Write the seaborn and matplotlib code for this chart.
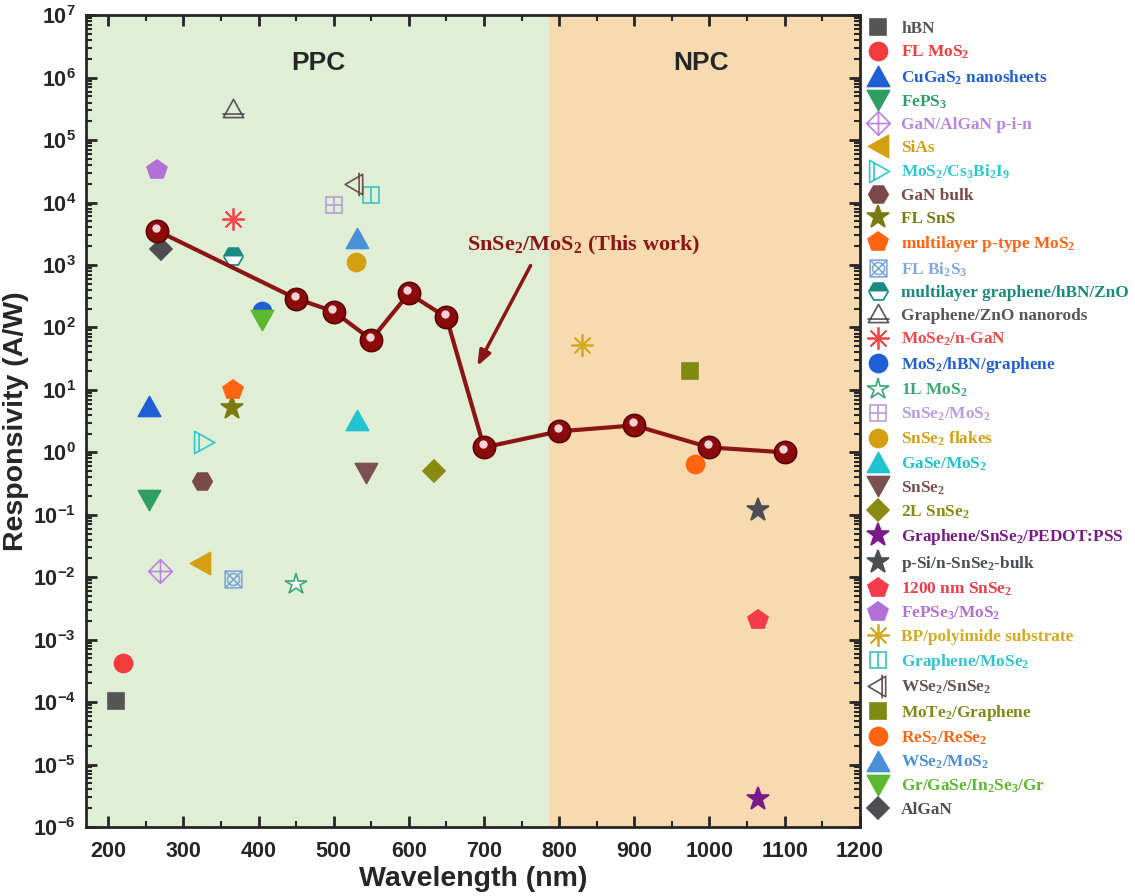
import numpy as np
import pandas as pd
import matplotlib
matplotlib.use("Agg")
import matplotlib.pyplot as plt
from matplotlib.path import Path
from matplotlib.transforms import offset_copy
import seaborn as sns

# ---------------------------------------------------------------------------
# DATA
# ---------------------------------------------------------------------------
# This work: SnSe2/MoS2
work_wl = [265, 450, 500, 550, 600, 650, 700, 800, 900, 1000, 1100]
work_resp = [3550, 290, 180, 64, 350, 145, 1.2, 2.17, 2.7, 1.2, 1.0]

# Literature points (legend order)
ref_labels = [
    "hBN", "FL MoS$_2$", "CuGaS$_2$ nanosheets", "FePS$_3$", "GaN/AlGaN p-i-n",
    "SiAs", "MoS$_2$/Cs$_3$Bi$_2$I$_9$", "GaN bulk", "FL SnS",
    "multilayer p-type MoS$_2$", "FL Bi$_2$S$_3$", "multilayer graphene/hBN/ZnO",
    "Graphene/ZnO nanorods", "MoSe$_2$/n-GaN", "MoS$_2$/hBN/graphene",
    "1L MoS$_2$", "SnSe$_2$/MoS$_2$", "SnSe$_2$ flakes", "GaSe/MoS$_2$",
    "SnSe$_2$", "2L SnSe$_2$", "Graphene/SnSe$_2$/PEDOT:PSS",
    "p-Si/n-SnSe$_2$-bulk", "1200 nm SnSe$_2$", "FePSe$_3$/MoS$_2$",
    "BP/polyimide substrate", "Graphene/MoSe$_2$", "WSe$_2$/SnSe$_2$",
    "MoTe$_2$/Graphene", "ReS$_2$/ReSe$_2$", "WSe$_2$/MoS$_2$",
    "Gr/GaSe/In$_2$Se$_3$/Gr", "AlGaN",
]
ref_wl = [210, 220, 254, 254, 269, 322, 326, 325, 365, 366, 366, 366, 366, 366,
          405, 450, 501, 530, 531, 543, 633, 1065, 1065, 1064, 265, 830, 550,
          529, 974, 981, 531, 405, 270]
ref_resp = [1.05e-4, 4.2e-4, 5.6, 0.17, 0.0126, 0.0166, 1.45, 0.35, 5.2, 9.8,
            0.0093, 1380, 3.1e5, 5500, 186, 0.0079, 9000, 1100, 3.3, 0.46,
            0.51, 2.8e-6, 0.12, 0.0021, 3.3e4, 53, 1.3e4, 2.0e4, 20, 0.66,
            2750, 134, 1780]
ref_colors = [
    "#555555", "#f23b3b", "#1f5fd6", "#2e9e62", "#b985e0", "#d4a012",
    "#2ec8d0", "#7a4848", "#7a7a12", "#ff6410", "#80a8d8", "#188a80",
    "#555555", "#f24848", "#1f5fd6", "#3aa870", "#b99be0", "#d4a012",
    "#1fc4d0", "#7a5050", "#8a8a12", "#7a1a8a", "#4d4d55", "#f23c4c",
    "#b070d8", "#d4aa20", "#30c4cc", "#6a5050", "#7f8a12", "#ff6410",
    "#4a90d9", "#5cb82e", "#4d4d52",
]
ref_markers = [
    "s", "o", "tri_up", "tri_down", "diamond_plus", "tri_left", "tri_bar", "H",
    "*", "p", "square_x", "h_half", "tri_line", "aster", "o", "star_open",
    "square_plus", "o", "tri_up", "tri_down", "D", "*", "*", "p", "p", "aster",
    "square_bar", "ltri_bar", "s", "o", "tri_up", "tri_down", "D",
]

# ---------------------------------------------------------------------------
# CUSTOM MARKERS
# ---------------------------------------------------------------------------
def multi_path(polys, closed):
    verts, codes = [], []
    for pts, cl in zip(polys, closed):
        verts += pts
        codes += [Path.MOVETO] + [Path.LINETO] * (len(pts) - 1)
        if cl:
            verts.append(pts[0])
            codes.append(Path.CLOSEPOLY)
    return Path(verts, codes)

sq = [(-1, -1), (1, -1), (1, 1), (-1, 1)]
circ = [(0.72 * np.cos(t), 0.72 * np.sin(t)) for t in np.linspace(0, 2 * np.pi, 40)[:-1]]
custom = {
    "diamond_plus": multi_path([[(0, 1), (1, 0), (0, -1), (-1, 0)], [(-1, 0), (1, 0)], [(0, -1), (0, 1)]],
                               [True, False, False]),
    "tri_bar": multi_path([[(-0.8, 1), (1, 0), (-0.8, -1)], [(-0.4, -0.78), (-0.4, 0.78)]], [True, False]),
    "square_x": multi_path([sq, [(-1, -1), (1, 1)], [(-1, 1), (1, -1)], circ], [True, False, False, True]),
    "tri_line": multi_path([[(0, 1), (-1, -0.8), (1, -0.8)], [(-1.1, -0.45), (1.1, -0.45)]], [True, False]),
    "square_plus": multi_path([sq, [(-1, 0), (1, 0)], [(0, -1), (0, 1)]], [True, False, False]),
    "square_bar": multi_path([sq, [(0, -1), (0, 1)]], [True, False]),
    "ltri_bar": multi_path([[(-1, 0), (0.7, 1), (0.7, -1)], [(0.35, -1.15), (0.35, 1.15)]], [True, False]),
}
filled_custom = {
    "tri_up": multi_path([[(0, 0.9), (-1, -0.9), (1, -0.9)]], [True]),
    "tri_down": multi_path([[(0, -0.9), (-1, 0.9), (1, 0.9)]], [True]),
    "tri_left": multi_path([[(-0.9, 0), (0.9, 1), (0.9, -1)]], [True]),
}
msize = {"s": 11, "o": 13, "tri_up": 16, "tri_down": 16, "tri_left": 16,
         "p": 15, "H": 14, "h_half": 14, "*": 17, "star_open": 16, "D": 11.5,
         "aster": 16, "diamond_plus": 17, "tri_bar": 16, "square_x": 12,
         "tri_line": 16, "square_plus": 12, "square_bar": 12, "ltri_bar": 17}

# ---------------------------------------------------------------------------
# PLOT
# ---------------------------------------------------------------------------
sns.set_style("ticks")
plt.rcParams["font.family"] = ["Liberation Sans", "DejaVu Sans"]
plt.rcParams["mathtext.default"] = "regular"

fig = plt.figure(figsize=(11.35, 8.96), dpi=100)
ax = fig.add_axes([0.0755, 0.077, 0.682, 0.906])
ax.set_yscale("log")
ax.set_xlim(170, 1200)
ax.set_ylim(1e-6, 1e7)

ax.axvspan(170, 787, color="#e0eed5", zorder=0, lw=0)
ax.axvspan(787, 1200, color="#f7dab0", zorder=0, lw=0)

handles = []
for lab, x, y, c, m in zip(ref_labels, ref_wl, ref_resp, ref_colors, ref_markers):
    kw = dict(linestyle="", markersize=msize[m], color=c, markeredgecolor=c,
              markeredgewidth=1.2)
    if m == "h_half":
        kw.update(marker="H", fillstyle="top", markerfacecolor=c,
                  markerfacecoloralt="white")
    elif m == "star_open":
        kw.update(marker="*", markerfacecolor="white")
    elif m == "aster":
        kw.update(marker=(8, 2, 0), markeredgewidth=1.3)
    elif m in custom:
        kw.update(marker=custom[m], markerfacecolor="none")
    elif m in filled_custom:
        kw.update(marker=filled_custom[m], markerfacecolor=c)
    else:
        kw.update(marker=m, markerfacecolor=c)
    sns.lineplot(x=[x], y=[y], ax=ax, label=lab, legend=False, **kw)
    handles.append(ax.lines[-1])

# this work
red = "#8b0a0a"
sns.lineplot(x=work_wl, y=work_resp, ax=ax, color="#8b1414", lw=3, marker="o",
             markersize=16, markerfacecolor=red, markeredgecolor="#5a0000",
             markeredgewidth=1.2, legend=False, zorder=5)
hl = offset_copy(ax.transData, fig=fig, x=-1.5, y=3, units="dots")
ax.plot(work_wl, work_resp, linestyle="", marker="o", markersize=6,
        markerfacecolor="#f4d4d8", markeredgecolor="none", transform=hl, zorder=6)

ax.text(479, 1.7e6, "PPC", fontsize=19, fontweight="bold", ha="center", va="center")
ax.text(989, 1.7e6, "NPC", fontsize=19, fontweight="bold", ha="center", va="center")
ax.text(832, 2050, "SnSe$_2$/MoS$_2$ (This work)", ha="center", va="center",
        fontsize=16, fontweight="bold", family=["Liberation Serif"], color="#8b1414")
ax.annotate("", xy=(691, 24), xytext=(762, 980),
            arrowprops=dict(arrowstyle="-|>,head_length=0.9,head_width=0.35",
                            color="#8b1414", lw=2.5, shrinkA=0, shrinkB=0))

ax.set_xticks(np.arange(200, 1201, 100))
ax.set_xticks(np.arange(250, 1200, 100), minor=True)
ax.set_yticks([10.0 ** k for k in range(-6, 8)])
ax.set_yticks([m * 10.0 ** k for k in range(-6, 7) for m in range(2, 10)], minor=True)
ax.yaxis.set_minor_formatter(matplotlib.ticker.NullFormatter())
ax.set_ylim(1e-6, 1e7)
ax.tick_params(which="both", direction="in", top=True, right=True, width=2)
ax.tick_params(which="major", length=8, labelsize=15.5)
ax.tick_params(which="minor", length=4, width=1.5)
ax.tick_params(axis="x", which="major", pad=10)
ax.tick_params(axis="y", which="major", pad=7)
for t in ax.get_xticklabels() + ax.get_yticklabels():
    t.set_fontweight("bold")
for s in ax.spines.values():
    s.set_linewidth(2)

ax.set_xlabel("Wavelength (nm)", fontsize=20.5, fontweight="bold", labelpad=3)
ax.set_ylabel("Responsivity (A/W)", fontsize=20.5, fontweight="bold", labelpad=3)

leg = fig.legend(handles, ref_labels, loc="upper left", bbox_to_anchor=(0.7575, 0.984),
                 frameon=False, handlelength=1.3, handletextpad=0.7,
                 labelspacing=0.39, borderaxespad=0,
                 prop={"family": "Liberation Serif", "weight": "bold", "size": 12.4})
for t, c in zip(leg.get_texts(), ref_colors):
    t.set_color(c)

fig.savefig("out.png", dpi=100)
